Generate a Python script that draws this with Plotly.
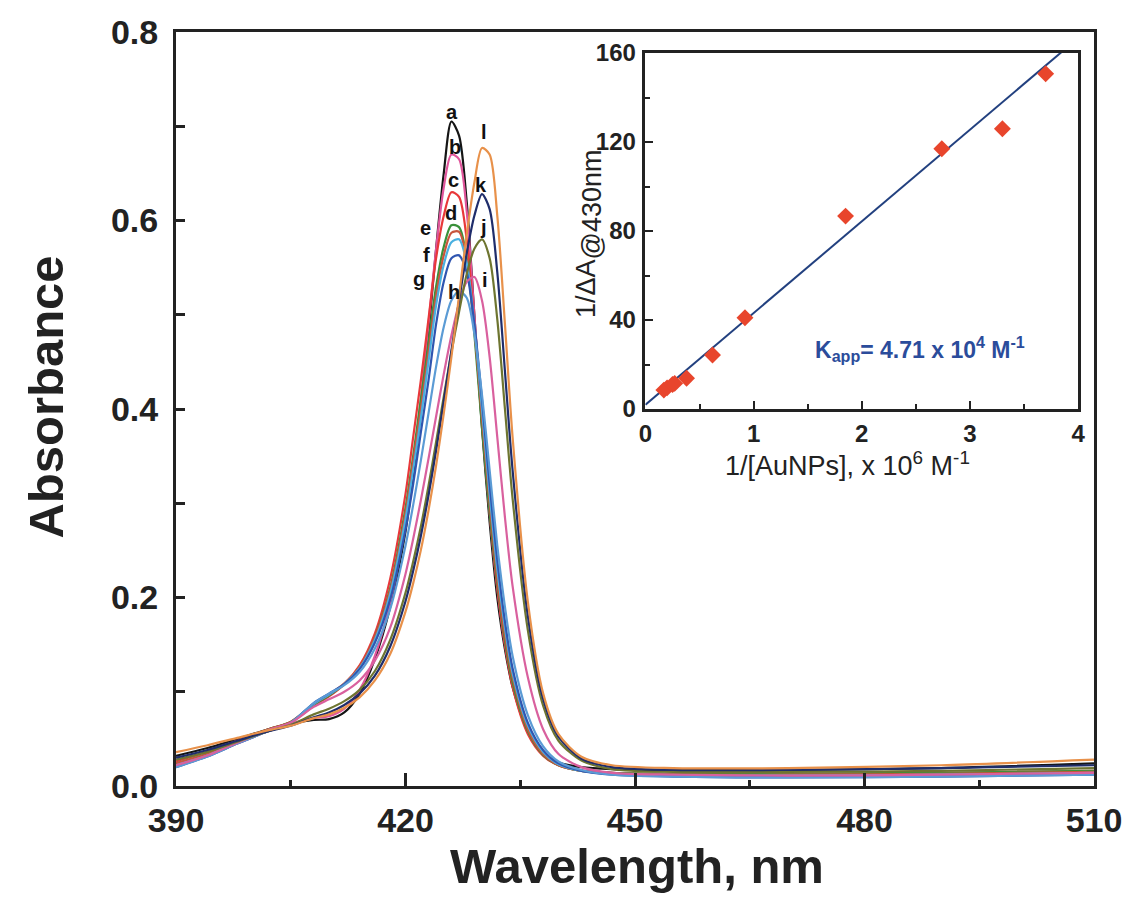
import plotly.graph_objects as go

# ---------------- UV-vis titration spectra ----------------
wavelength = [390, 394, 398, 402, 405, 408, 410, 412, 414, 416, 418, 420, 421, 422, 423,
              424, 425, 426, 427, 428, 429, 430, 431, 432, 433, 434, 436, 438, 440, 443,
              447, 455, 470, 490, 510]

abs_a = [0.032, 0.040, 0.050, 0.060, 0.066, 0.070, 0.071, 0.078, 0.098, 0.135, 0.19, 0.27, 0.33, 0.40, 0.48,
         0.57, 0.65, 0.705, 0.69, 0.62, 0.50, 0.38, 0.28, 0.20, 0.145, 0.105, 0.058, 0.035, 0.025, 0.020,
         0.018, 0.017, 0.017, 0.019, 0.024]
abs_b = [0.022, 0.032, 0.045, 0.058, 0.066, 0.072, 0.074, 0.082, 0.102, 0.138, 0.195, 0.28, 0.34, 0.41, 0.49,
         0.57, 0.635, 0.670, 0.665, 0.61, 0.50, 0.39, 0.29, 0.21, 0.15, 0.11, 0.06, 0.036, 0.024, 0.017,
         0.014, 0.012, 0.011, 0.012, 0.014]
abs_c = [0.026, 0.036, 0.048, 0.060, 0.068, 0.085, 0.095, 0.108, 0.128, 0.162, 0.22, 0.31, 0.37, 0.43, 0.495,
         0.56, 0.605, 0.630, 0.625, 0.58, 0.49, 0.385, 0.29, 0.21, 0.15, 0.105, 0.055, 0.032, 0.022, 0.016,
         0.014, 0.013, 0.013, 0.014, 0.016]
abs_d = [0.024, 0.034, 0.047, 0.060, 0.068, 0.086, 0.096, 0.108, 0.126, 0.158, 0.21, 0.295, 0.35, 0.41, 0.47,
         0.53, 0.572, 0.595, 0.593, 0.56, 0.48, 0.38, 0.29, 0.215, 0.155, 0.11, 0.058, 0.033, 0.022, 0.016,
         0.014, 0.013, 0.013, 0.014, 0.016]
abs_e = [0.024, 0.034, 0.047, 0.060, 0.068, 0.087, 0.097, 0.109, 0.127, 0.158, 0.208, 0.29, 0.345, 0.40, 0.46,
         0.52, 0.563, 0.587, 0.588, 0.558, 0.485, 0.39, 0.30, 0.22, 0.16, 0.115, 0.06, 0.034, 0.022, 0.016,
         0.013, 0.012, 0.012, 0.013, 0.015]
abs_f = [0.022, 0.032, 0.046, 0.059, 0.067, 0.087, 0.097, 0.108, 0.125, 0.155, 0.204, 0.283, 0.335, 0.39, 0.45,
         0.51, 0.553, 0.577, 0.580, 0.555, 0.49, 0.40, 0.31, 0.23, 0.168, 0.12, 0.064, 0.036, 0.023, 0.016,
         0.013, 0.011, 0.011, 0.012, 0.014]
abs_g = [0.020, 0.031, 0.045, 0.058, 0.067, 0.088, 0.098, 0.108, 0.124, 0.152, 0.198, 0.272, 0.32, 0.375, 0.43,
         0.49, 0.535, 0.560, 0.563, 0.545, 0.49, 0.41, 0.32, 0.24, 0.175, 0.125, 0.067, 0.038, 0.024, 0.016,
         0.012, 0.010, 0.009, 0.010, 0.012]
abs_h = [0.020, 0.031, 0.045, 0.058, 0.067, 0.088, 0.098, 0.107, 0.121, 0.146, 0.188, 0.255, 0.298, 0.345, 0.395,
         0.445, 0.487, 0.515, 0.525, 0.518, 0.48, 0.415, 0.335, 0.255, 0.19, 0.138, 0.075, 0.042, 0.026, 0.017,
         0.012, 0.010, 0.009, 0.010, 0.012]
abs_i = [0.022, 0.032, 0.046, 0.059, 0.067, 0.084, 0.092, 0.100, 0.112, 0.133, 0.168, 0.225, 0.262, 0.303, 0.347,
         0.392, 0.437, 0.478, 0.512, 0.535, 0.540, 0.515, 0.455, 0.37, 0.285, 0.212, 0.115, 0.06, 0.034, 0.02,
         0.014, 0.012, 0.011, 0.012, 0.014]
abs_j = [0.028, 0.036, 0.047, 0.058, 0.065, 0.076, 0.082, 0.090, 0.102, 0.122, 0.155, 0.205, 0.238, 0.275, 0.318,
         0.365, 0.413, 0.46, 0.503, 0.543, 0.570, 0.580, 0.560, 0.495, 0.40, 0.305, 0.165, 0.085, 0.048, 0.027,
         0.018, 0.015, 0.015, 0.016, 0.019]
abs_k = [0.030, 0.038, 0.048, 0.058, 0.064, 0.073, 0.078, 0.086, 0.098, 0.117, 0.148, 0.196, 0.228, 0.265, 0.308,
         0.356, 0.408, 0.462, 0.515, 0.565, 0.605, 0.628, 0.612, 0.545, 0.44, 0.335, 0.18, 0.092, 0.052, 0.029,
         0.020, 0.017, 0.017, 0.019, 0.022]
abs_l = [0.036, 0.043, 0.051, 0.059, 0.064, 0.072, 0.076, 0.083, 0.094, 0.112, 0.140, 0.185, 0.215, 0.25, 0.292,
         0.34, 0.395, 0.455, 0.52, 0.585, 0.64, 0.677, 0.670, 0.605, 0.49, 0.37, 0.195, 0.098, 0.055, 0.031,
         0.022, 0.019, 0.019, 0.022, 0.028]

spectra = [abs_a, abs_b, abs_c, abs_d, abs_e, abs_f, abs_g, abs_h, abs_i, abs_j, abs_k, abs_l]
curve_names = ["a", "b", "c", "d", "e", "f", "g", "h", "i", "j", "k", "l"]
curve_colors = ["#151515", "#e0559b", "#e8383a", "#3a913a", "#c8553d", "#4ab0e0",
                "#2f55b0", "#5b9bd5", "#d9609e", "#6e7530", "#1f2d6b", "#e8914a"]

# curve letter positions (wavelength, absorbance)
label_wl = [426.1, 426.5, 426.3, 425.9, 422.6, 422.8, 421.7, 426.3, 430.4, 430.2, 429.9, 430.2]
label_abs = [0.715, 0.678, 0.643, 0.608, 0.592, 0.563, 0.538, 0.524, 0.537, 0.593, 0.638, 0.694]

# ---------------- double-reciprocal plot (inset) ----------------
inv_aunp = [0.17, 0.20, 0.25, 0.27, 0.38, 0.62, 0.92, 1.85, 2.74, 3.30, 3.70]
inv_dA = [8.5, 9.5, 11.0, 11.5, 13.8, 24.3, 41.0, 86.7, 117.0, 126.0, 150.7]
fit_slope = 41.2
fit_intercept = 1.94
fit_x = [0.0, 4.0]

FONT = "Liberation Sans, Arial, Helvetica, sans-serif"
INK = "#222222"

fig = go.Figure()

for name, vals, col in zip(curve_names, spectra, curve_colors):
    fig.add_trace(go.Scatter(x=wavelength, y=vals, mode="lines", name=name,
                             line=dict(color=col, width=2.2, shape="spline", smoothing=0.8),
                             xaxis="x", yaxis="y", showlegend=False))

fig.add_trace(go.Scatter(x=fit_x, y=[fit_intercept + fit_slope * v for v in fit_x],
                         mode="lines", line=dict(color="#22407f", width=2),
                         xaxis="x2", yaxis="y2", showlegend=False))
fig.add_trace(go.Scatter(x=inv_aunp, y=inv_dA, mode="markers",
                         marker=dict(symbol="diamond", size=13, color="#e8452c"),
                         xaxis="x2", yaxis="y2", showlegend=False, cliponaxis=False))

main_axis = dict(showline=True, linewidth=3, linecolor=INK, mirror=True,
                 ticks="inside", tickwidth=2.5, tickcolor=INK, showgrid=False, zeroline=False,
                 tickfont=dict(family=FONT, size=34, color=INK, weight="bold"))
inset_axis = dict(showline=True, linewidth=2.5, linecolor=INK, mirror=True,
                  ticks="inside", tickwidth=2, tickcolor=INK, showgrid=False, zeroline=False,
                  tickfont=dict(family=FONT, size=24, color=INK, weight="bold"))

fig.update_layout(
    width=1134, height=921,
    margin=dict(l=176, r=35, t=32, b=135),
    paper_bgcolor="white", plot_bgcolor="white",
    xaxis=dict(main_axis, range=[390, 510], tickvals=[390, 420, 450, 480, 510], ticklen=13,
               minor=dict(dtick=15, ticks="inside", ticklen=6, tickwidth=2.5, tickcolor=INK),
               ticklabelstandoff=2),
    yaxis=dict(main_axis, range=[0, 0.8], tickvals=[0, 0.2, 0.4, 0.6, 0.8], tickformat=".1f",
               ticklen=9, minor=dict(dtick=0.1, ticks="inside", ticklen=9, tickwidth=2.5, tickcolor=INK),
               ticklabelstandoff=8),
    xaxis2=dict(inset_axis, domain=[0.5114, 0.9827], anchor="y2", range=[0, 4], dtick=1, ticklen=8,
                minor=dict(dtick=0.5, ticks="inside", ticklen=5, tickwidth=2, tickcolor=INK),
                ticklabelstandoff=1),
    yaxis2=dict(inset_axis, domain=[0.5, 0.9721], anchor="x2", range=[0, 160], dtick=40, ticklen=8,
                minor=dict(dtick=20, ticks="inside", ticklen=5, tickwidth=2, tickcolor=INK),
                ticklabelstandoff=2),
)

annotations = []
for name, lx, ly in zip(curve_names, label_wl, label_abs):
    annotations.append(dict(x=lx, y=ly, xref="x", yref="y", text=name, showarrow=False,
                            borderpad=0,
                            font=dict(family=FONT, size=20, color="#111111", weight="bold")))

sub_430 = "<sub><span style='font-size:27px'>@430nm</span></sub>"
annotations += [
    dict(x=-0.142, y=0.516, xref="paper", yref="paper", xanchor="center", yanchor="middle",
         text="Absorbance", textangle=-90,
         showarrow=False, font=dict(family=FONT, size=49, color=INK, weight="bold")),
    dict(x=0.502, y=-0.106, xref="paper", yref="paper", xanchor="center", yanchor="middle",
         text="Wavelength, nm",
         showarrow=False, font=dict(family=FONT, size=49, color=INK, weight="bold")),
    dict(x=0.7313, y=0.427, xref="paper", yref="paper", xanchor="center", yanchor="middle",
         text="1/[AuNPs], x 10<sup>6</sup> M<sup>-1</sup>",
         showarrow=False, font=dict(family=FONT, size=27, color=INK)),
    dict(x=0.4507, y=0.733, xref="paper", yref="paper", xanchor="center", yanchor="middle",
         text="1/ΔA" + sub_430,
         textangle=-90, showarrow=False, font=dict(family=FONT, size=27, color=INK)),
    dict(x=2.54, y=27, xref="x2", yref="y2", xanchor="center", yanchor="middle",
         text="K<sub>app</sub>= 4.71 x 10<sup>4</sup> M<sup>-1</sup>",
         showarrow=False, font=dict(family=FONT, size=23, color="#2b4c9b", weight="bold")),
]
fig.update_layout(annotations=annotations)

fig.write_html("out.html")
